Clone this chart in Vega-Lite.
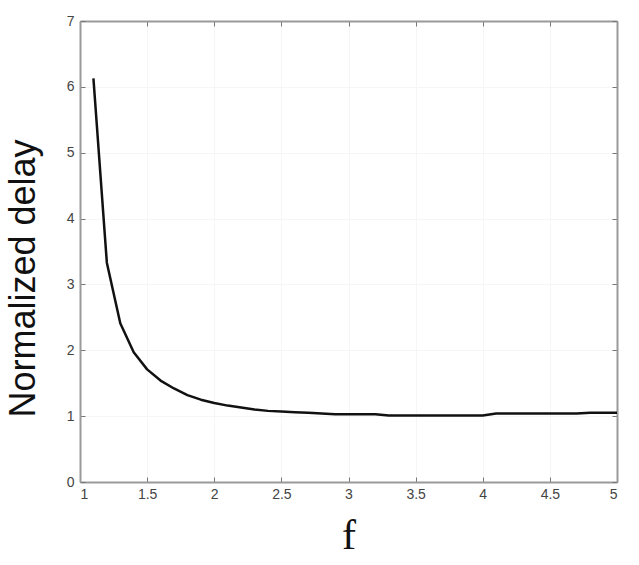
{
  "$schema": "https://vega.github.io/schema/vega-lite/v6.json",
  "width": 537,
  "height": 461,
  "autosize": "none",
  "padding": {"left": 80, "top": 21, "right": 22, "bottom": 83},
  "background": "white",
  "config": {
    "view": {"stroke": null},
    "axis": {
      "domainColor": "#9a9a9a",
      "domainWidth": 2,
      "tickColor": "#777",
      "tickSize": -5,
      "gridColor": "#f6f6f6",
      "gridWidth": 1,
      "labelFont": "Liberation Sans",
      "labelFontSize": 14,
      "labelColor": "#444",
      "labelOverlap": false
    }
  },
  "data": {
    "values": [
      {"f": 1.1, "delay": 6.13},
      {"f": 1.2, "delay": 3.33},
      {"f": 1.3, "delay": 2.41},
      {"f": 1.4, "delay": 1.97},
      {"f": 1.5, "delay": 1.71},
      {"f": 1.6, "delay": 1.54},
      {"f": 1.7, "delay": 1.42},
      {"f": 1.8, "delay": 1.32},
      {"f": 1.9, "delay": 1.25},
      {"f": 2.0, "delay": 1.2},
      {"f": 2.1, "delay": 1.16},
      {"f": 2.2, "delay": 1.13},
      {"f": 2.3, "delay": 1.1},
      {"f": 2.4, "delay": 1.08},
      {"f": 2.5, "delay": 1.07},
      {"f": 2.6, "delay": 1.06},
      {"f": 2.7, "delay": 1.05},
      {"f": 2.8, "delay": 1.04},
      {"f": 2.9, "delay": 1.03},
      {"f": 3.0, "delay": 1.03},
      {"f": 3.1, "delay": 1.03},
      {"f": 3.2, "delay": 1.03},
      {"f": 3.3, "delay": 1.01},
      {"f": 3.4, "delay": 1.01},
      {"f": 3.5, "delay": 1.01},
      {"f": 3.6, "delay": 1.01},
      {"f": 3.7, "delay": 1.01},
      {"f": 3.8, "delay": 1.01},
      {"f": 3.9, "delay": 1.01},
      {"f": 4.0, "delay": 1.01},
      {"f": 4.1, "delay": 1.04},
      {"f": 4.2, "delay": 1.04},
      {"f": 4.3, "delay": 1.04},
      {"f": 4.4, "delay": 1.04},
      {"f": 4.5, "delay": 1.04},
      {"f": 4.6, "delay": 1.04},
      {"f": 4.7, "delay": 1.04},
      {"f": 4.8, "delay": 1.05},
      {"f": 4.9, "delay": 1.05},
      {"f": 5.0, "delay": 1.05}
    ]
  },
  "layer": [
    {
      "mark": {"type": "line", "color": "#111", "strokeWidth": 2.5, "strokeJoin": "round"},
      "encoding": {
        "x": {
          "field": "f",
          "type": "quantitative",
          "scale": {"domain": [1, 5], "nice": false},
          "axis": {
            "values": [1, 1.5, 2, 2.5, 3, 3.5, 4, 4.5, 5],
            "format": "~g",
            "title": "f",
            "titleFont": "Liberation Serif",
            "titleFontSize": 42,
            "titleFontWeight": "normal",
            "titleColor": "#111",
            "titlePadding": 14,
            "labelPadding": 10
          }
        },
        "y": {
          "field": "delay",
          "type": "quantitative",
          "scale": {"domain": [0, 7], "nice": false},
          "axis": {
            "values": [0, 1, 2, 3, 4, 5, 6, 7],
            "title": "Normalized delay",
            "titleFont": "Liberation Sans",
            "titleFontSize": 36,
            "titleFontWeight": "normal",
            "titleColor": "#111",
            "titleY": 257,
            "titleX": -38,
            "titleAnchor": "middle",
            "labelPadding": 11
          }
        }
      }
    },
    {
      "mark": {"type": "line", "opacity": 0},
      "encoding": {
        "x": {
          "field": "f",
          "type": "quantitative",
          "scale": {"domain": [1, 5], "nice": false},
          "axis": {"orient": "top", "values": [1, 1.5, 2, 2.5, 3, 3.5, 4, 4.5, 5], "labels": false, "title": null, "grid": false}
        },
        "y": {
          "field": "delay",
          "type": "quantitative",
          "scale": {"domain": [0, 7], "nice": false},
          "axis": {"orient": "right", "values": [0, 1, 2, 3, 4, 5, 6, 7], "labels": false, "title": null, "grid": false}
        }
      }
    }
  ],
  "resolve": {"axis": {"x": "independent", "y": "independent"}}
}
